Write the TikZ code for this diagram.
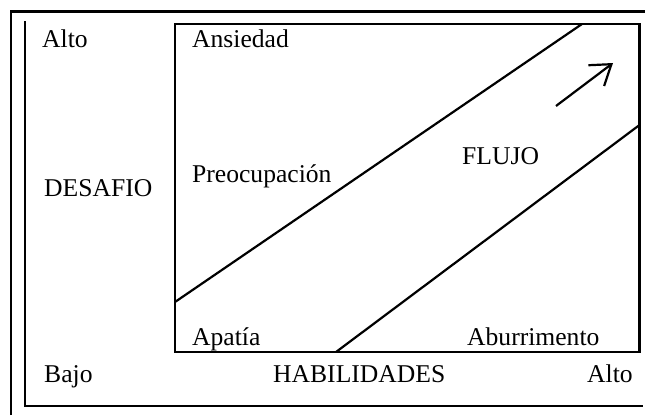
\documentclass[tikz,border=0pt]{standalone}
\usepackage{fontspec}
\setmainfont{Liberation Serif}
\usetikzlibrary{arrows.meta}
\begin{document}
\begin{tikzpicture}[x=1pt,y=-1pt,
  lbl/.style={anchor=base west,inner sep=0pt,font=\fontsize{25.6}{28}\selectfont},
  frame/.style={line width=1.7pt,line cap=rect},
  boxline/.style={line width=2.2pt},
  diag/.style={line width=2.2pt},
  flowarrow/.style={line width=2.2pt,-{Straight Barb[length=19pt,width=26pt,line width=2.2pt]}}]
\useasboundingbox (0,0) rectangle (645,415);
% outer frame (cropped right and bottom)
\coordinate (o1) at (11,415);
\coordinate (o2) at (11,11.5);
\coordinate (o3) at (645,11.5);
\draw[line width=1.5pt] (o1) -- (11,12);
\draw[line width=2.8pt] (10.3,11.5) -- (o3);
% inner frame
\coordinate (i1) at (25,22);
\coordinate (i2) at (25,406);
\coordinate (i3) at (642,406);
\draw[frame] (i1) -- (i2) -- (i3);
% chart box
\coordinate (bl) at (175,352);
\coordinate (tr) at (639.5,24);
\draw[boxline] (bl) rectangle (tr);
% diagonals
\coordinate (d1a) at (175,302);
\coordinate (d1b) at (582,24);
\coordinate (d2a) at (336,352);
\coordinate (d2b) at (639.5,125);
\draw[diag] (d1a) -- (d1b);
\draw[diag] (d2a) -- (d2b);
% arrow
\coordinate (at) at (556,106);
\coordinate (ah) at (613,63);
\draw[flowarrow] (at) -- (ah);
% labels
\node[lbl] (altoy) at (42,47) {Alto};
\node[lbl] (ans) at (192,47) {Ansiedad};
\node[lbl] (pre) at (192,182) {Preocupación};
\node[lbl] (des) at (44,196) {DESAFIO};
\node[lbl] (flu) at (462,164) {FLUJO};
\node[lbl] (apa) at (192,345) {Apatía};
\node[lbl] (abu) at (467,345) {Aburrimento};
\node[lbl] (baj) at (44,382) {Bajo};
\node[lbl] (hab) at (273,382) {HABILIDADES};
\node[lbl] (altox) at (587,382) {Alto};
\end{tikzpicture}
\end{document}
